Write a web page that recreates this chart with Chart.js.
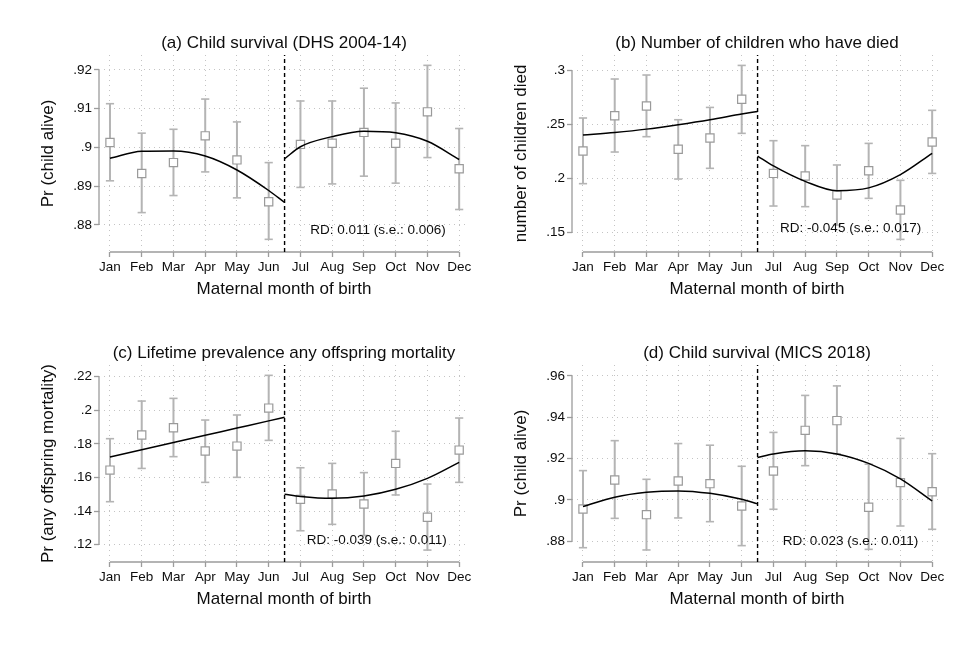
<!DOCTYPE html>
<html>
<head>
<meta charset="utf-8">
<script src="https://cdn.jsdelivr.net/npm/chart.js@4.4.1/dist/chart.umd.min.js"></script>
<style>
  body { margin: 0; background: #fff; width: 975px; height: 650px; position: relative; overflow: hidden; }
  canvas { position: absolute; }
</style>
</head>
<body>
<canvas id="panelA" width="487" height="320" style="left:0px;top:0px"></canvas>
<canvas id="panelB" width="487" height="320" style="left:473px;top:0px"></canvas>
<canvas id="panelC" width="487" height="320" style="left:0px;top:310px"></canvas>
<canvas id="panelD" width="487" height="320" style="left:473px;top:310px"></canvas>
<script>
const months = ['Jan', 'Feb', 'Mar', 'Apr', 'May', 'Jun', 'Jul', 'Aug', 'Sep', 'Oct', 'Nov', 'Dec'];
const monthNum = [1, 2, 3, 4, 5, 6, 7, 8, 9, 10, 11, 12];
const cutoff = 6.5;
const fitXLeft = [1, 2, 3, 4, 5, 6, 6.5];
const fitXRight = [6.5, 7, 8, 9, 10, 11, 12];
const xRange = [0.654, 12.31];

// (a) Child survival (DHS 2004-14)
const ptsA = [0.9013, 0.8933, 0.8961, 0.9030, 0.8968, 0.8860, 0.9008, 0.9011, 0.9039, 0.9011, 0.9092, 0.8945];
const loA  = [0.8914, 0.8832, 0.8876, 0.8937, 0.8870, 0.8763, 0.8897, 0.8906, 0.8926, 0.8908, 0.8974, 0.8840];
const hiA  = [0.9113, 0.9037, 0.9047, 0.9125, 0.9066, 0.8961, 0.9120, 0.9120, 0.9153, 0.9115, 0.9212, 0.9049];
const fitLeftA  = [0.8972, 0.8990, 0.8991, 0.8978, 0.8942, 0.8889, 0.8858];
const fitRightA = [0.8971, 0.9002, 0.9028, 0.9042, 0.9038, 0.9016, 0.8969];
const yTicksA = [0.88, 0.89, 0.9, 0.91, 0.92];
const yRangeA = [0.87303, 0.92387];

// (b) Number of children who have died
const ptsB = [0.2256, 0.2583, 0.2673, 0.2272, 0.2377, 0.2735, 0.2049, 0.2025, 0.1849, 0.2074, 0.1710, 0.2340];
const loB  = [0.1954, 0.2247, 0.2389, 0.1997, 0.2096, 0.2420, 0.1747, 0.1741, 0.1571, 0.1818, 0.1438, 0.2049];
const hiB  = [0.2562, 0.2923, 0.2960, 0.2546, 0.2660, 0.3049, 0.2352, 0.2306, 0.2127, 0.2327, 0.1985, 0.2633];
const fitLeftB  = [0.2404, 0.2428, 0.2459, 0.2500, 0.2546, 0.2599, 0.2623];
const fitRightB = [0.2210, 0.2118, 0.1975, 0.1889, 0.1915, 0.2038, 0.2235];
const yTicksB = [0.15, 0.2, 0.25, 0.3];
const yRangeB = [0.13213, 0.31454];

// (c) Lifetime prevalence any offspring mortality
const ptsC = [0.1644, 0.1853, 0.1896, 0.1758, 0.1787, 0.2013, 0.1470, 0.1502, 0.1442, 0.1684, 0.1363, 0.1763];
const loC  = [0.1456, 0.1654, 0.1724, 0.1571, 0.1601, 0.1821, 0.1283, 0.1321, 0.1255, 0.1496, 0.1168, 0.1571];
const hiC  = [0.1831, 0.2055, 0.2071, 0.1942, 0.1972, 0.2208, 0.1658, 0.1684, 0.1629, 0.1875, 0.1561, 0.1954];
const fitLeftC  = [0.1722, 0.1765, 0.1808, 0.1851, 0.1894, 0.1937, 0.1958];
const fitRightC = [0.1500, 0.1487, 0.1476, 0.1490, 0.1530, 0.1595, 0.1690];
const yTicksC = [0.12, 0.14, 0.16, 0.18, 0.2, 0.22];
const yRangeC = [0.1097, 0.22696];

// (d) Child survival (MICS 2018)
const ptsD = [0.8956, 0.9097, 0.8929, 0.9092, 0.9079, 0.8971, 0.9140, 0.9337, 0.9384, 0.8965, 0.9084, 0.9040];
const loD  = [0.8769, 0.8911, 0.8758, 0.8913, 0.8895, 0.8779, 0.8955, 0.9166, 0.9223, 0.8761, 0.8874, 0.8858];
const hiD  = [0.9142, 0.9287, 0.9100, 0.9273, 0.9265, 0.9163, 0.9327, 0.9506, 0.9552, 0.9173, 0.9298, 0.9224];
const fitLeftD  = [0.8968, 0.9013, 0.9037, 0.9044, 0.9032, 0.9003, 0.8981];
const fitRightD = [0.9206, 0.9223, 0.9238, 0.9223, 0.9177, 0.9102, 0.8995];
const yTicksD = [0.88, 0.9, 0.92, 0.94, 0.96];
const yRangeD = [0.86998, 0.96532];

const textColor = '#0d0d0d';
const axisColor = '#9c9c9c';
const gridColor = '#c4c4c4';
const ciColor = '#b4b4b4';
const markerColor = '#9a9a9a';

Chart.defaults.font.family = "'Liberation Sans', Arial, Helvetica, sans-serif";
Chart.defaults.color = textColor;

// Stata-like axis lines: y from first to last tick, x from Jan to Dec
const stataAxes = {
  id: 'stataAxes',
  beforeDatasetsDraw(chart) {
    const { ctx, chartArea: a, scales: { x, y } } = chart;
    const yt = y.ticks, xt = x.ticks;
    ctx.save();
    ctx.strokeStyle = axisColor;
    ctx.lineWidth = 1.3;
    ctx.beginPath();
    ctx.moveTo(a.left, y.getPixelForValue(yt[0].value));
    ctx.lineTo(a.left, y.getPixelForValue(yt[yt.length - 1].value));
    ctx.moveTo(x.getPixelForValue(xt[0].value), a.bottom);
    ctx.lineTo(x.getPixelForValue(xt[xt.length - 1].value), a.bottom);
    ctx.stroke();
    ctx.restore();
  }
};

// RD annotation text
const rdLabel = {
  id: 'rdLabel',
  afterDatasetsDraw(chart, args, opts) {
    const { ctx, scales: { x, y } } = chart;
    ctx.save();
    ctx.font = "13.5px 'Liberation Sans', Arial, sans-serif";
    ctx.fillStyle = textColor;
    ctx.textAlign = 'left';
    ctx.textBaseline = 'middle';
    ctx.fillText(opts.text, x.getPixelForValue(opts.at[0]), y.getPixelForValue(opts.at[1]));
    ctx.restore();
  }
};

function makePanel(id, p) {
  const ctx = document.getElementById(id).getContext('2d');
  const whiskers = monthNum.flatMap((m, i) => [{ x: m, y: p.lo[i] }, { x: m, y: p.hi[i] }, { x: m, y: null }]);
  return new Chart(ctx, {
    type: 'line',
    data: {
      datasets: [
        {
          data: fitXLeft.map((m, i) => ({ x: m, y: p.fitL[i] })),
          borderColor: '#000', borderWidth: 1.5, pointRadius: 0,
          cubicInterpolationMode: 'monotone', order: 0
        },
        {
          data: fitXRight.map((m, i) => ({ x: m, y: p.fitR[i] })),
          borderColor: '#000', borderWidth: 1.5, pointRadius: 0,
          cubicInterpolationMode: 'monotone', order: 0
        },
        {
          data: [{ x: cutoff, y: p.yRange[0] }, { x: cutoff, y: p.yRange[1] }],
          borderColor: '#000', borderWidth: 1.4, borderDash: [4, 3], pointRadius: 0, order: 0
        },
        {
          data: monthNum.map((m, i) => ({ x: m, y: p.pts[i] })),
          showLine: false, pointStyle: 'rect', pointRadius: 5.8,
          pointBorderWidth: 1.2, pointBorderColor: markerColor, pointBackgroundColor: '#fff', order: 1
        },
        {
          data: whiskers, spanGaps: false,
          borderColor: ciColor, borderWidth: 2,
          pointStyle: 'line', pointRadius: 4.1, pointBorderWidth: 1.6,
          pointBorderColor: ciColor, order: 2
        }
      ]
    },
    options: {
      responsive: false,
      animation: false,
      events: [],
      layout: { padding: { left: 0, right: 18, top: 0, bottom: 0 } },
      plugins: {
        legend: { display: false },
        tooltip: { enabled: false },
        title: {
          display: true, text: p.title, fullSize: false, color: textColor,
          font: { size: 17, weight: 'normal' }, padding: { top: 32.8, bottom: 1.8 }
        },
        rdLabel: { text: p.rd, at: p.rdAt }
      },
      scales: {
        x: {
          type: 'linear', bounds: 'data', min: xRange[0], max: xRange[1],
          afterBuildTicks: s => { s.ticks = monthNum.map(v => ({ value: v })); },
          afterFit: s => { s.height = 68; },
          ticks: {
            callback: (v, i) => months[i], autoSkip: false, maxRotation: 0,
            padding: 2, font: { size: 13.5 }, color: textColor
          },
          grid: { color: gridColor, lineWidth: 1, tickLength: 5, tickColor: axisColor, tickWidth: 1.3 },
          border: { display: false, dash: [1, 4] },
          title: {
            display: true, text: 'Maternal month of birth', color: textColor,
            font: { size: 17 }, padding: { top: 0, bottom: 20.8 }
          }
        },
        y: {
          type: 'linear', bounds: 'data', min: p.yRange[0], max: p.yRange[1],
          afterBuildTicks: s => { s.ticks = p.yTicks.map(v => ({ value: v })); },
          afterFit: s => { s.width = 99; },
          ticks: {
            callback: v => String(v).replace(/^0\./, '.'),
            padding: 2, font: { size: 13.5 }, color: textColor
          },
          grid: { color: gridColor, lineWidth: 1, tickLength: 5, tickColor: axisColor, tickWidth: 1.3 },
          border: { display: false, dash: [1, 4] },
          title: {
            display: true, text: p.yTitle, color: textColor,
            font: { size: 17 }, padding: { top: 37.8, bottom: 0 }
          }
        }
      }
    },
    plugins: [stataAxes, rdLabel]
  });
}

makePanel('panelA', {
  title: '(a) Child survival (DHS 2004-14)', yTitle: 'Pr (child alive)',
  pts: ptsA, lo: loA, hi: hiA, fitL: fitLeftA, fitR: fitRightA,
  yTicks: yTicksA, yRange: yRangeA,
  rd: 'RD: 0.011 (s.e.: 0.006)', rdAt: [7.31, 0.8787]
});
makePanel('panelB', {
  title: '(b) Number of children who have died', yTitle: 'number of children died',
  pts: ptsB, lo: loB, hi: hiB, fitL: fitLeftB, fitR: fitRightB,
  yTicks: yTicksB, yRange: yRangeB,
  rd: 'RD: -0.045 (s.e.: 0.017)', rdAt: [7.21, 0.1544]
});
makePanel('panelC', {
  title: '(c) Lifetime prevalence any offspring mortality', yTitle: 'Pr (any offspring mortality)',
  pts: ptsC, lo: loC, hi: hiC, fitL: fitLeftC, fitR: fitRightC,
  yTicks: yTicksC, yRange: yRangeC,
  rd: 'RD: -0.039 (s.e.: 0.011)', rdAt: [7.2, 0.1228]
});
makePanel('panelD', {
  title: '(d) Child survival (MICS 2018)', yTitle: 'Pr (child alive)',
  pts: ptsD, lo: loD, hi: hiD, fitL: fitLeftD, fitR: fitRightD,
  yTicks: yTicksD, yRange: yRangeD,
  rd: 'RD: 0.023 (s.e.: 0.011)', rdAt: [7.29, 0.8798]
});
</script>
</body>
</html>
